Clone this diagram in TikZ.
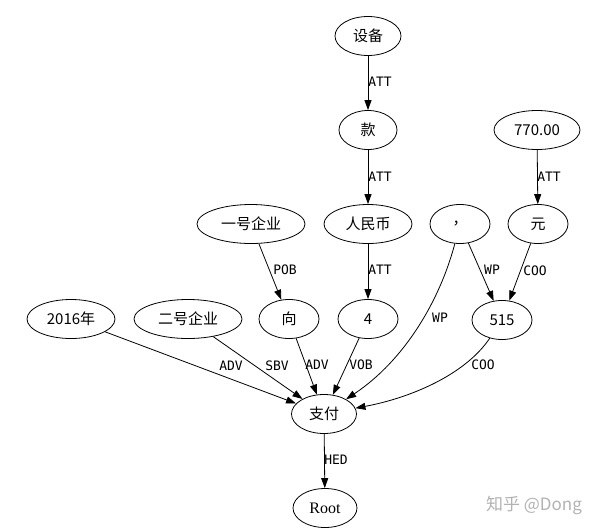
\documentclass[tikz,border=0pt]{standalone}
\usepackage{fontspec}
\usetikzlibrary{shapes.geometric,arrows.meta}
\newfontfamily\cjkfont{Noto Sans CJK SC}
\newfontfamily\lblfont{DejaVu Sans Mono}
\newfontfamily\rootfont{Liberation Serif}

\tikzset{
  tok/.style={ellipse, draw, line width=0.8pt, minimum height=39pt,
    minimum width=60pt, inner sep=0pt, font=\cjkfont\fontsize{15}{15}\selectfont},
  dep/.style={line width=0.8pt, -{Triangle[length=10pt,width=7pt]}},
  lbl/.style={font=\lblfont\fontsize{13}{13}\selectfont, inner sep=0pt},
}

\begin{document}
\begin{tikzpicture}[x=1pt,y=-1pt]
\useasboundingbox (0,0) rectangle (600,531);

% Woerter
\node [tok, minimum width=66pt] (dev) at (368,36) {设备};
\node [tok, minimum width=58pt] (kuan) at (368,130) {款};
\node [tok, minimum width=86pt] (num770) at (537,130) {770.00};
\node [tok, minimum width=108pt] (co1) at (251,224) {一号企业};
\node [tok, minimum width=88pt] (rmb) at (368,224) {人民币};
\node [tok] (comma) at (460,224) {，};
\node [tok] (yuan) at (538,224) {元};
\node [tok, minimum width=88pt] (y2016) at (71,319) {2016年};
\node [tok, minimum width=108pt] (co2) at (188,319) {二号企业};
\node [tok] (xiang) at (289,319) {向};
\node [tok] (four) at (368,319) {4};
\node [tok] (n515) at (502,320) {515};
\node [tok, minimum width=65pt] (pay) at (324,414) {支付};
\node [tok, minimum width=64pt, font=\rootfont\fontsize{16}{16}\selectfont] (root) at (325,508) {Root};

% Abhaengigkeiten
\draw [dep] (dev) -- (kuan) node [lbl] at (380,82) {ATT};
\draw [dep] (kuan) -- (rmb) node [lbl] at (380,177) {ATT};
\draw [dep] (num770) -- (yuan) node [lbl] at (549,177) {ATT};
\draw [dep] (co1) -- (xiang) node [lbl] at (285,270) {POB};
\draw [dep] (rmb) -- (four) node [lbl] at (380,270) {ATT};
\draw [dep] (comma) -- (n515) node [lbl] at (492,270) {WP};
\draw [dep] (yuan) -- (n515) node [lbl] at (535,271) {COO};
\draw [dep] (y2016) -- (pay) node [lbl] at (231,366) {ADV};
\draw [dep] (co2) -- (pay) node [lbl] at (277,366) {SBV};
\draw [dep] (xiang) -- (pay) node [lbl] at (317,365) {ADV};
\draw [dep] (four) -- (pay) node [lbl] at (361,365) {VOB};
\draw [dep] (comma) .. controls (440,300) and (405,360) .. (pay)
  node [lbl] at (440,318) {WP};
\draw [dep] (n515) .. controls (465,375) and (410,398) .. (pay)
  node [lbl] at (483,365) {COO};
\draw [dep] (pay) -- (root) node [lbl] at (336,460) {HED};

% Wasserzeichen
\node [text=gray!60, font=\cjkfont\fontsize{17}{17}\selectfont] (mark) at (534,505) {知乎 @Dong};
\end{tikzpicture}
\end{document}
